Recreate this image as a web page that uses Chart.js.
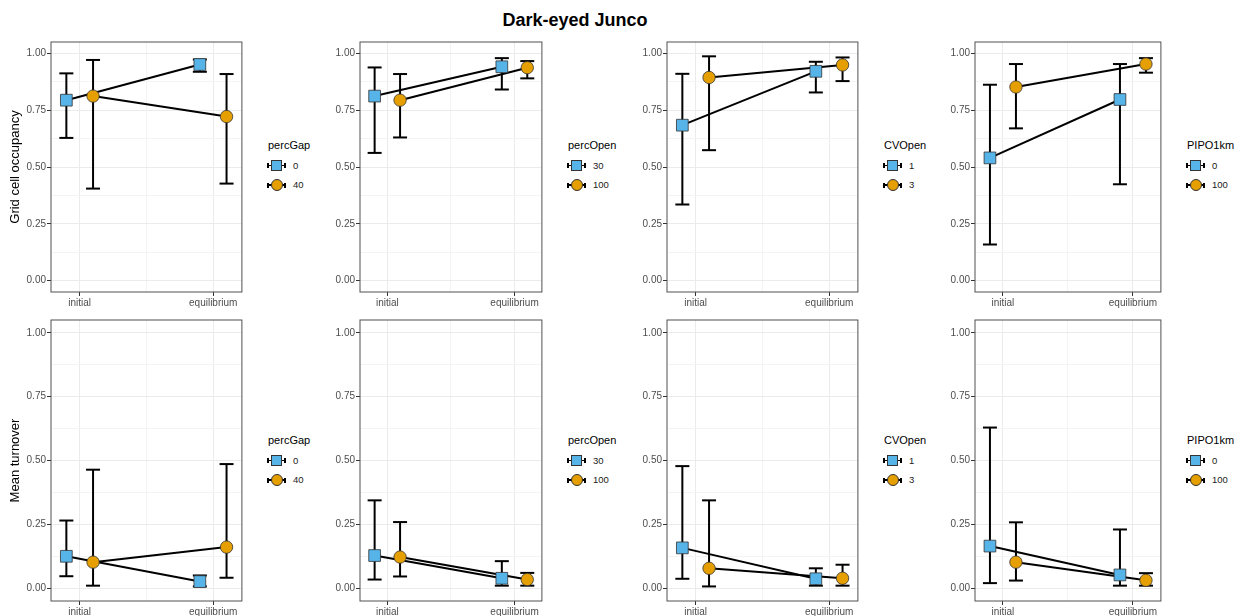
<!DOCTYPE html>
<html>
<head>
<meta charset="utf-8">
<script src="https://cdn.jsdelivr.net/npm/chart.js@4/dist/chart.umd.min.js"></script>
<style>
  body { margin: 0; background: #fff; font-family: "Liberation Sans", Arial, sans-serif; }
  #wrap { position: relative; width: 1250px; height: 616px; overflow: hidden; }
  #wrap canvas { position: absolute; }
  .title { position: absolute; left: 0; width: 1150px; top: 9px; line-height: 22px; text-align: center; font-weight: bold; font-size: 18px; color: #000; }
  .lt { position: absolute; font-size: 11px; line-height: 14px; color: #000; white-space: nowrap; }
  .ll { position: absolute; font-size: 9.5px; line-height: 12px; color: #1a1a1a; white-space: nowrap; }
  .key { position: absolute; width: 19px; height: 14px; }
  .key div { position: absolute; box-sizing: border-box; }
</style>
</head>
<body>
<div id="wrap">
  <div class="title">Dark-eyed Junco</div>
</div>
<script>
const stages = ['initial', 'equilibrium'];
const factors = ['percGap', 'percOpen', 'CVOpen', 'PIPO1km'];
const levelsA = ['0', '30', '1', '0'];
const levelsB = ['40', '100', '3', '100'];
const yTicks = [0, 0.25, 0.5, 0.75, 1];
const yMinorTicks = [0.125, 0.375, 0.625, 0.875];
const rowTitles = ['Grid cell occupancy', 'Mean turnover'];

// one pair per factor: [initial, equilibrium]
const occA    = [[0.794, 0.951], [0.812, 0.941], [0.684, 0.921], [0.540, 0.797]];
const occALo  = [[0.628, 0.919], [0.562, 0.841], [0.335, 0.828], [0.159, 0.424]];
const occAHi  = [[0.912, 0.973], [0.938, 0.979], [0.910, 0.963], [0.862, 0.953]];
const occB    = [[0.812, 0.722], [0.794, 0.937], [0.894, 0.949], [0.852, 0.953]];
const occBLo  = [[0.405, 0.427], [0.630, 0.890], [0.574, 0.878], [0.670, 0.915]];
const occBHi  = [[0.971, 0.909], [0.909, 0.966], [0.987, 0.982], [0.953, 0.979]];

const turnA   = [[0.125, 0.026], [0.128, 0.039], [0.158, 0.037], [0.165, 0.052]];
const turnALo = [[0.047, 0.007], [0.034, 0.010], [0.037, 0.010], [0.020, 0.010]];
const turnAHi = [[0.265, 0.050], [0.344, 0.106], [0.478, 0.078], [0.629, 0.230]];
const turnB   = [[0.102, 0.161], [0.122, 0.034], [0.078, 0.039], [0.102, 0.031]];
const turnBLo = [[0.010, 0.041], [0.046, 0.010], [0.007, 0.010], [0.030, 0.010]];
const turnBHi = [[0.464, 0.486], [0.259, 0.060], [0.344, 0.092], [0.258, 0.059]];

const blue = '#56B4E9', orange = '#E69F00';

// plot-area boxes (pixels)
const colX = [[51, 248], [360, 548], [667, 864], [975, 1167]];
const rowY = [[42, 292], [320, 601]];
const legendY = [145, 440];
const PAD_T = 10, PAD_R = 3, X_H = 18;

Chart.defaults.font.family = '"Liberation Sans", Arial, sans-serif';

const frame = {
  id: 'frame',
  beforeDatasetsDraw(chart) {
    const a = chart.chartArea, ctx = chart.ctx;
    ctx.save();
    ctx.strokeStyle = '#505050';
    ctx.lineWidth = 1;
    ctx.strokeRect(a.left, a.top, a.right - a.left, a.bottom - a.top);
    ctx.restore();
  }
};

const wrap = document.getElementById('wrap');

function makePanel(row, col) {
  const [x0, x1] = colX[col], [y0, y1] = rowY[row];
  const yW = col === 0 ? x0 : 50;
  const cv = document.createElement('canvas');
  cv.width = yW + (x1 - x0) + PAD_R;
  cv.height = PAD_T + (y1 - y0) + X_H;
  cv.style.left = (x0 - yW) + 'px';
  cv.style.top = (y0 - PAD_T) + 'px';
  wrap.appendChild(cv);

  const src = row === 0
    ? [[occA, occALo, occAHi], [occB, occBLo, occBHi]]
    : [[turnA, turnALo, turnAHi], [turnB, turnBLo, turnBHi]];
  const looks = [
    { dx: -0.1, style: 'rect', r: 8.3, fill: blue },
    { dx: 0.1, style: 'circle', r: 6.2, fill: orange }
  ];

  let datasets = [];
  src.forEach((s, k) => {
    const [mean, lo, hi] = s;
    const lk = looks[k];
    const pts = [0, 1].map(i => ({ x: i + 1 + lk.dx, y: mean[col][i] }));
    datasets.push({ data: pts, showLine: true, borderColor: '#000', borderWidth: 2, pointRadius: 0, order: 3 });
    [0, 1].forEach(i => {
      const x = i + 1 + lk.dx;
      datasets.push({
        data: [{ x: x, y: lo[col][i] }, { x: x, y: hi[col][i] }],
        showLine: true, borderColor: '#000', borderWidth: 2,
        pointStyle: 'line', pointRadius: 7, pointBorderColor: '#000', pointBorderWidth: 2,
        order: 2
      });
    });
    datasets.push({
      data: pts, showLine: false, pointStyle: lk.style, pointRadius: lk.r,
      pointBackgroundColor: lk.fill, pointBorderColor: '#333', pointBorderWidth: 0.8, order: 1
    });
  });

  new Chart(cv, {
    type: 'scatter',
    data: { datasets },
    options: {
      responsive: false,
      animation: false,
      events: [],
      layout: { padding: { top: PAD_T, right: PAD_R, left: 0, bottom: 0 } },
      plugins: { legend: { display: false }, tooltip: { enabled: false } },
      scales: {
        x: {
          type: 'linear', min: 0.785, max: 2.215,
          afterBuildTicks: s => { s.ticks = [1, 1.5, 2].map(v => ({ value: v })); },
          afterFit: s => { s.height = X_H; },
          ticks: {
            autoSkip: false, maxRotation: 0, padding: 1, color: '#4D4D4D', font: { size: 10 },
            callback: v => v === 1 ? stages[0] : (v === 2 ? stages[1] : '')
          },
          grid: {
            color: c => (c.tick && c.tick.value === 1.5) ? '#F4F4F4' : '#EBEBEB',
            tickColor: c => (c.tick && c.tick.value === 1.5) ? 'rgba(0,0,0,0)' : '#333',
            tickLength: 4, lineWidth: 1
          },
          border: { display: false }
        },
        y: {
          type: 'linear', min: -0.05, max: 1.05,
          afterBuildTicks: s => {
            s.ticks = yTicks.concat(yMinorTicks).sort((a, b) => a - b).map(v => ({ value: v }));
          },
          afterFit: s => { s.width = yW; },
          ticks: {
            autoSkip: false, padding: 1, color: '#4D4D4D', font: { size: 10 },
            callback: v => yTicks.includes(v) ? v.toFixed(2) : ''
          },
          grid: {
            color: c => (c.tick && yMinorTicks.includes(c.tick.value)) ? '#F4F4F4' : '#EBEBEB',
            tickColor: c => (c.tick && yMinorTicks.includes(c.tick.value)) ? 'rgba(0,0,0,0)' : '#333',
            tickLength: 4, lineWidth: 1
          },
          border: { display: false },
          title: {
            display: col === 0, text: rowTitles[row], color: '#000',
            font: { size: 13 }, padding: { top: 8, bottom: 0 }
          }
        }
      }
    },
    plugins: [frame]
  });
}

function el(cls, css, text) {
  const d = document.createElement('div');
  d.className = cls;
  Object.assign(d.style, css);
  if (text !== undefined) d.textContent = text;
  return d;
}

function makeLegend(row, col) {
  const x = colX[col][1] + 19;
  const cy = legendY[row];
  wrap.appendChild(el('lt', { left: (x + 1) + 'px', top: (cy - 7) + 'px' }, factors[col]));
  const labels = [levelsA[col], levelsB[col]];
  labels.forEach((lab, i) => {
    const iy = cy + 20.5 + i * 19.6;
    const key = el('key', { left: x + 'px', top: (iy - 7) + 'px' });
    key.appendChild(el('', { left: '0px', top: '6.25px', width: '19px', height: '1.5px', background: '#000' }));
    key.appendChild(el('', { left: '0px', top: '4.5px', width: '2px', height: '5px', background: '#000' }));
    key.appendChild(el('', { left: '17px', top: '4.5px', width: '2px', height: '5px', background: '#000' }));
    if (i === 0) {
      key.appendChild(el('', { left: '4px', top: '1.5px', width: '11px', height: '11px', background: blue, border: '0.8px solid #333' }));
    } else {
      key.appendChild(el('', { left: '3.5px', top: '1px', width: '12px', height: '12px', background: orange, border: '0.8px solid #333', borderRadius: '50%' }));
    }
    wrap.appendChild(key);
    wrap.appendChild(el('ll', { left: (x + 26) + 'px', top: (iy - 6) + 'px' }, lab));
  });
}

for (let r = 0; r < 2; r++) {
  for (let c = 0; c < 4; c++) {
    makePanel(r, c);
    makeLegend(r, c);
  }
}
</script>
</body>
</html>
